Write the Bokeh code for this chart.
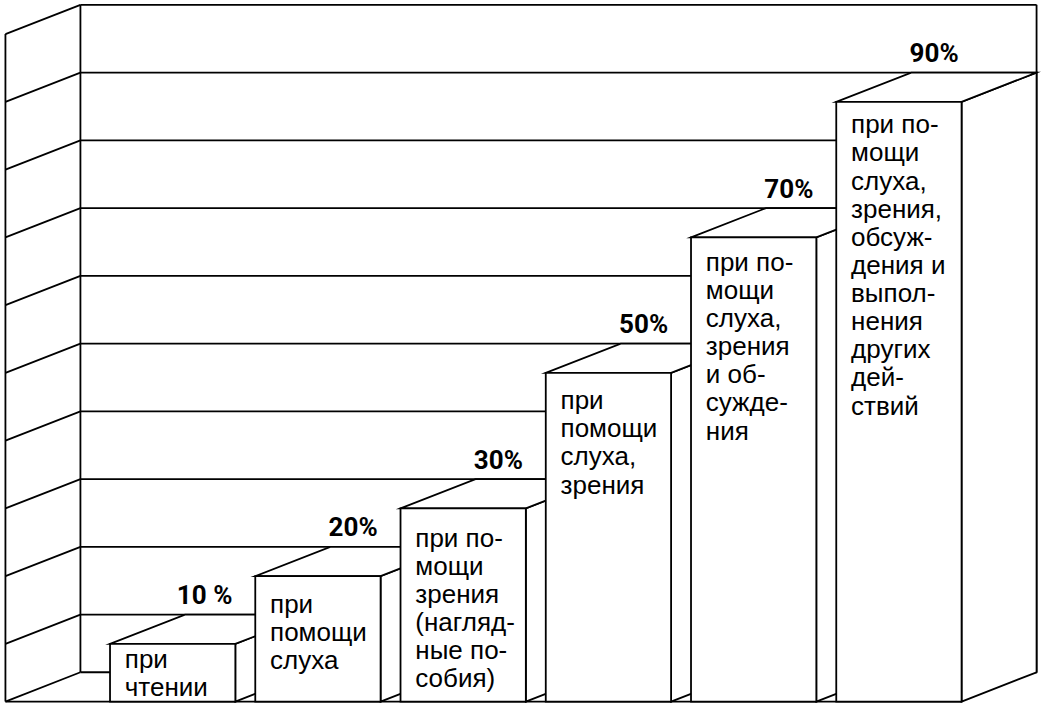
from bokeh.plotting import figure
from bokeh.models import Range1d
from bokeh.embed import file_html
from bokeh.resources import INLINE
from bokeh.core.properties import value

# ---------------- data ----------------
VALUES = [10, 20, 30, 50, 70, 90]
PCT_LABELS = ["10 %", "20%", "30%", "50%", "70%", "90%"]
BAR_TEXT = [
    ["при", "чтении"],
    ["при", "помощи", "слуха"],
    ["при по-", "мощи", "зрения", "(нагляд-", "ные по-", "собия)"],
    ["при", "помощи", "слуха,", "зрения"],
    ["при по-", "мощи", "слуха,", "зрения", "и об-", "сужде-", "ния"],
    ["при по-", "мощи", "слуха,", "зрения,", "обсуж-", "дения и",
     "выпол-", "нения", "других", "дей-", "ствий"],
]
GRID_LEVELS = [10, 20, 30, 40, 50, 60, 70, 80, 90, 100]

# ---------------- layout (x in reference pixels, y in percent) ----------------
PX = 6.94            # pixels per percent
Y0 = 699.4           # pixel row of 0 % on the back wall
DX = 76              # depth offset in x (pixels)
DY = 30 / PX         # depth offset in y (percent units)
FLOOR = 1.5          # visible floor level
TOP = 100
WALL_LEFT, WALL_BACK, WALL_RIGHT = 6, 82, 1051
BAR_LEFT0, BAR_PITCH, BAR_W = 112, 147.2, 127
TEXT_PAD = [15, 28, 30, 28, 25, 23]
LINE_STEP = 28.8
TEXT_INDENT = 15
LABEL_RISE = 20
LW = 1.8

p = figure(width=1041, height=704,
           x_range=Range1d(1, 1056),
           y_range=Range1d((Y0 - 722) / PX, (Y0 - 1) / PX),
           x_axis_type=None, y_axis_type=None,
           output_backend="svg", toolbar_location=None,
           min_border=0, min_border_left=0, min_border_right=0,
           min_border_top=0, min_border_bottom=0)
p.grid.visible = False
p.outline_line_color = None
p.background_fill_color = "white"
p.border_fill_color = "white"

# ---------------- walls ----------------
levels = [FLOOR] + GRID_LEVELS
x0s, y0s, x1s, y1s = [], [], [], []
for lv in levels:  # back wall horizontal lines
    x0s.append(WALL_BACK); y0s.append(lv); x1s.append(WALL_RIGHT); y1s.append(lv)
for xx in (WALL_BACK, WALL_RIGHT):  # back wall verticals
    x0s.append(xx); y0s.append(FLOOR); x1s.append(xx); y1s.append(TOP)
for lv in levels:  # left wall diagonals
    x0s.append(WALL_LEFT); y0s.append(lv - DY); x1s.append(WALL_BACK); y1s.append(lv)
x0s.append(WALL_LEFT); y0s.append(FLOOR - DY); x1s.append(WALL_LEFT); y1s.append(TOP - DY)
last_right = BAR_LEFT0 + (len(VALUES) - 1) * BAR_PITCH + BAR_W
x0s.append(WALL_LEFT); y0s.append(FLOOR - DY); x1s.append(last_right); y1s.append(FLOOR - DY)

p.segment(x0=x0s, y0=y0s, x1=x1s, y1=y1s, line_color="black", line_width=LW)

# ---------------- bars ----------------
xs, ys = [], []
for i, v in enumerate(VALUES):
    xl = BAR_LEFT0 + i * BAR_PITCH
    xr = xl + BAR_W
    xs.append([xr, xr, xr + DX, xr + DX])          # right side face
    ys.append([FLOOR - DY, v - DY, v, FLOOR])
    xs.append([xl, xr, xr + DX, xl + DX])          # top face
    ys.append([v - DY, v - DY, v, v])
    xs.append([xl, xr, xr, xl])                    # front face
    ys.append([FLOOR - DY, FLOOR - DY, v - DY, v - DY])

p.patches(xs=xs, ys=ys, fill_color="white", line_color="black",
          line_width=LW, line_join="miter")

# ---------------- texts inside bars ----------------
tx, ty, tt = [], [], []
for i, (v, lines) in enumerate(zip(VALUES, BAR_TEXT)):
    xl = BAR_LEFT0 + i * BAR_PITCH
    for j, line in enumerate(lines):
        tx.append(xl + TEXT_INDENT)
        ty.append(v - DY - (TEXT_PAD[i] + j * LINE_STEP) / PX)
        tt.append(line)
p.text(x=tx, y=ty, text=tt, text_font=value("Liberation Sans"),
       text_font_size="26px", text_color="black",
       text_align="left", text_baseline="alphabetic")

# ---------------- percent labels ----------------
lx, ly = [], []
for i, v in enumerate(VALUES):
    xr = BAR_LEFT0 + i * BAR_PITCH + BAR_W
    lx.append(xr - 3)
    ly.append(v + LABEL_RISE / PX)
p.text(x=lx, y=ly, text=PCT_LABELS, text_font=value("Roboto"),
       text_font_size="26px", text_font_style="bold", text_color="black",
       text_align="right", text_baseline="alphabetic")

open("out.html", "w").write(file_html(p, INLINE))
